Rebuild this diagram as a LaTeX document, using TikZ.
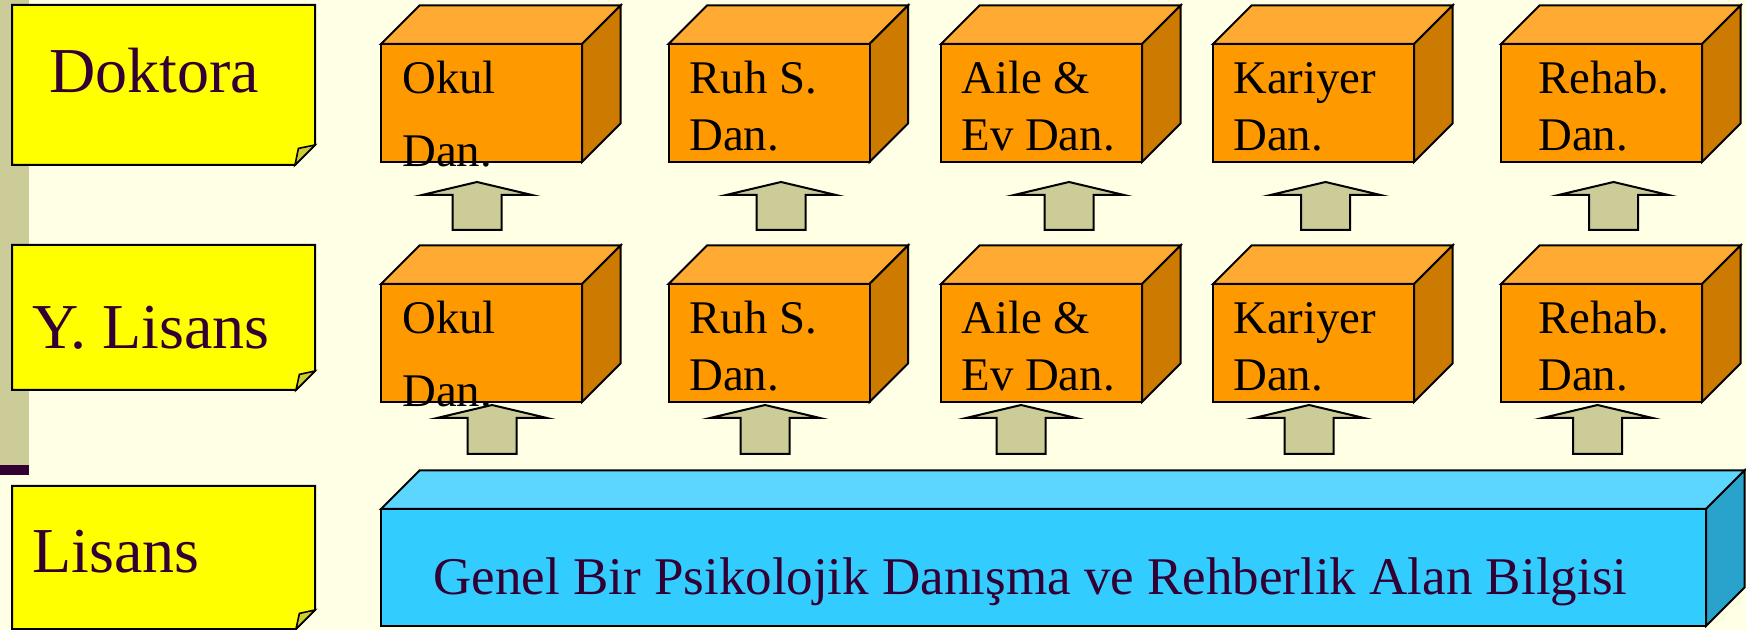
\documentclass[tikz,border=0pt]{standalone}
\usepackage{fontspec}
\setmainfont{Liberation Serif}
\definecolor{bgc}{HTML}{FFFFE5}
\definecolor{khaki}{HTML}{CCCC99}
\definecolor{plum}{HTML}{330033}
\definecolor{notey}{HTML}{FFFF00}
\definecolor{foldc}{HTML}{CCCC33}
\definecolor{orfront}{HTML}{FF9900}
\definecolor{ortop}{HTML}{FFAA33}
\definecolor{orside}{HTML}{CC7A00}
\definecolor{blfront}{HTML}{33CCFF}
\definecolor{bltop}{HTML}{5CD6FF}
\definecolor{blside}{HTML}{29A3CC}
\tikzset{
  edge/.style={draw=black, line width=1pt, line join=miter},
  notebox/.style={edge, fill=notey},
  foldtri/.style={edge, fill=foldc, line width=0.8pt},
  uparrowshape/.style={edge, fill=khaki},
  levellabel/.style={anchor=base west, inner sep=0pt, text=plum, font=\fontsize{32}{38}\selectfont},
  boxlabel/.style={anchor=base west, inner sep=0pt, text=black, font=\fontsize{23.4}{28}\selectfont},
  baselabel/.style={anchor=base west, inner sep=0pt, text=plum, font=\fontsize{26.5}{32}\selectfont},
}
% cube: x, y (front top-left), width, height, depth, front, top, side
\newcommand{\drawcube}[8]{%
  \filldraw[edge, fill=#7] (#1,#2) -- ++(#5,-#5) -- ++(#3,0) -- ++(-#5,#5) -- cycle;
  \filldraw[edge, fill=#8] (#1+#3,#2) -- ++(#5,-#5) -- ++(0,#4) -- ++(-#5,#5) -- cycle;
  \filldraw[edge, fill=#6] (#1,#2) rectangle ++(#3,#4);
}
% up arrow: centre x, tip y, bottom y
\newcommand{\drawuparrow}[3]{%
  \filldraw[uparrowshape] (#1,#2) -- (#1+55,#2+13) -- (#1+24.5,#2+13) -- (#1+24.5,#3)
    -- (#1-24.5,#3) -- (#1-24.5,#2+13) -- (#1-55,#2+13) -- cycle;
}
% sticky note: left, top, right, bottom, cut
\newcommand{\drawnote}[5]{%
  \filldraw[notebox] (#1,#2) -- (#3,#2) -- (#3,#4-#5) -- (#3-#5,#4) -- (#1,#4) -- cycle;
  \filldraw[foldtri] (#3-#5,#4) -- (#3-#5+3.4,#4-#5+3.4) -- (#3,#4-#5) -- cycle;
}
\begin{document}
\begin{tikzpicture}[x=0.5pt,y=-0.5pt]
\useasboundingbox (0,0) rectangle (1746,630);
\fill[bgc] (0,0) rectangle (1746,630);
% left bar
\fill[khaki] (0,0) rectangle (29,465);
\fill[plum] (0,465) rectangle (29,475);

% sticky notes
\drawnote{12}{5}{315}{165}{20}
\drawnote{12}{245}{315}{390}{19}
\drawnote{12}{486}{315}{629}{19}
\node[levellabel] (doktora) at (49,93) {Doktora};
\node[levellabel] (ylisans) at (32,349) {Y. Lisans};
\node[levellabel] (lisans) at (32,573) {Lisans};

% arrows
\foreach \cx in {477,781,1069,1325.5,1613.5} {\drawuparrow{\cx}{182}{230}}
\foreach \cx in {492,765,1021,1309,1597.5} {\drawuparrow{\cx}{405}{454}}

% orange cubes
\foreach \bx in {381,668.5,941,1213,1501} {
  \drawcube{\bx}{44}{201}{118}{38.5}{orfront}{ortop}{orside}
  \drawcube{\bx}{284}{201}{118}{38.5}{orfront}{ortop}{orside}
}
% blue base
\drawcube{381}{509}{1325}{117}{38.5}{blfront}{bltop}{blside}

% top row labels
\node[boxlabel] (d1a) at (402,94) {Okul};
\node[boxlabel] (d1b) at (402,167) {Dan.};
\node[boxlabel] (d2a) at (689,94) {Ruh S.};
\node[boxlabel] (d2b) at (689,151) {Dan.};
\node[boxlabel] (d3a) at (961,94) {Aile \&};
\node[boxlabel] (d3b) at (961,151) {Ev Dan.};
\node[boxlabel] (d4a) at (1233,94) {Kariyer};
\node[boxlabel] (d4b) at (1233,151) {Dan.};
\node[boxlabel] (d5a) at (1538,94) {Rehab.};
\node[boxlabel] (d5b) at (1538,151) {Dan.};
% middle row labels
\node[boxlabel] (m1a) at (402,334) {Okul};
\node[boxlabel] (m1b) at (402,407) {Dan.};
\node[boxlabel] (m2a) at (689,334) {Ruh S.};
\node[boxlabel] (m2b) at (689,391) {Dan.};
\node[boxlabel] (m3a) at (961,334) {Aile \&};
\node[boxlabel] (m3b) at (961,391) {Ev Dan.};
\node[boxlabel] (m4a) at (1233,334) {Kariyer};
\node[boxlabel] (m4b) at (1233,391) {Dan.};
\node[boxlabel] (m5a) at (1538,334) {Rehab.};
\node[boxlabel] (m5b) at (1538,391) {Dan.};
% base label
\node[baselabel] (base) at (433,595) {Genel Bir Psikolojik Danışma ve Rehberlik Alan Bilgisi};
\end{tikzpicture}
\end{document}
